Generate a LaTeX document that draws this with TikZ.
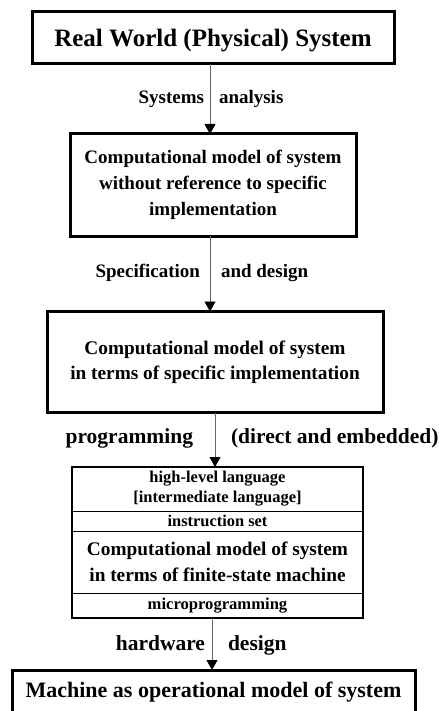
\documentclass[tikz,border=0pt]{standalone}
\usepackage{fontspec}
\setmainfont{Liberation Serif}
\usetikzlibrary{arrows.meta,positioning}

\begin{document}
\begin{tikzpicture}[x=1pt,y=-1pt,
	every node/.style={shape=rectangle, align=center, inner sep=0pt, outer sep=0pt, font=\bfseries},
	box/.style={draw, line width=3pt},
	row/.style={draw, line width=0.8pt, minimum width=291pt},
	arr/.style={draw=black!60, line width=0.9pt, -{Triangle[length=10pt,width=11pt,color=black]}},
	lbl/.style={font=\bfseries\fontsize{19}{19}\selectfont},
	biglbl/.style={font=\bfseries\fontsize{21.5}{21.5}\selectfont}]
	\useasboundingbox (0,0) rectangle (444,711);
	\clip (0,0) rectangle (444,711);
	\node[box, minimum width=362pt, minimum height=52pt, text depth=0pt, font=\bfseries\fontsize{25}{25}\selectfont] (real) at (213,38) {Real World (Physical) System};
	\node[box, minimum width=286pt, minimum height=102pt, font=\bfseries\fontsize{19}{26}\selectfont] (general) at (213,185)
		{Computational model of system\\without reference to specific\\implementation};
	\node[box, minimum width=336pt, minimum height=101pt, font=\bfseries\fontsize{19.3}{25}\selectfont] (specific) at (215,362)
		{Computational model of system\\in terms of specific implementation};
	\node[row, minimum height=44pt, font=\bfseries\fontsize{16.5}{20}\selectfont] (language) at (217.5,489)
		{high-level language\\{[}intermediate language{]}};
	\node[row, minimum height=20pt, font=\bfseries\fontsize{16.4}{16}\selectfont, below=0pt of language] (instruction) {instruction set};
	\node[row, minimum height=62pt, font=\bfseries\fontsize{19.3}{26}\selectfont, below=0pt of instruction] (fsm)
		{Computational model of system\\in terms of finite-state machine};
	\node[row, minimum height=25pt, font=\bfseries\fontsize{16.6}{16}\selectfont, below=0pt of fsm] (micro) {microprogramming};
	\draw[line width=2.2pt] (language.north west) rectangle (micro.south east);
	\node[box, minimum width=403pt, minimum height=44pt, font=\bfseries\fontsize{22}{22}\selectfont] (machine) at (213.5,692)
		{Machine as operational model of system};

	\draw[arr] (real.south -| 210,0) -- (general.north -| 210,0);
	\draw[arr] (general.south -| 210,0) -- (specific.north -| 210,0);
	\draw[arr] (specific.south -| 215,0) -- (language.north -| 215,0);
	\draw[arr] (micro.south -| 212,0) -- (machine.north -| 212,0);

	\node[lbl, anchor=base east] (sys1) at (204,104) {Systems};
	\node[lbl, anchor=base west] (sys2) at (219,104) {analysis};
	\node[lbl, anchor=base east] (spec1) at (200,277) {Specification};
	\node[lbl, anchor=base west] (spec2) at (221,277) {and design};
	\node[biglbl, anchor=base east] (prog1) at (193,443) {programming};
	\node[biglbl, anchor=base west] (prog2) at (231,443) {(direct and embedded)};
	\node[biglbl, anchor=base east] (hw1) at (205,650) {hardware};
	\node[biglbl, anchor=base west] (hw2) at (228,650) {design};
\end{tikzpicture}
\end{document}
